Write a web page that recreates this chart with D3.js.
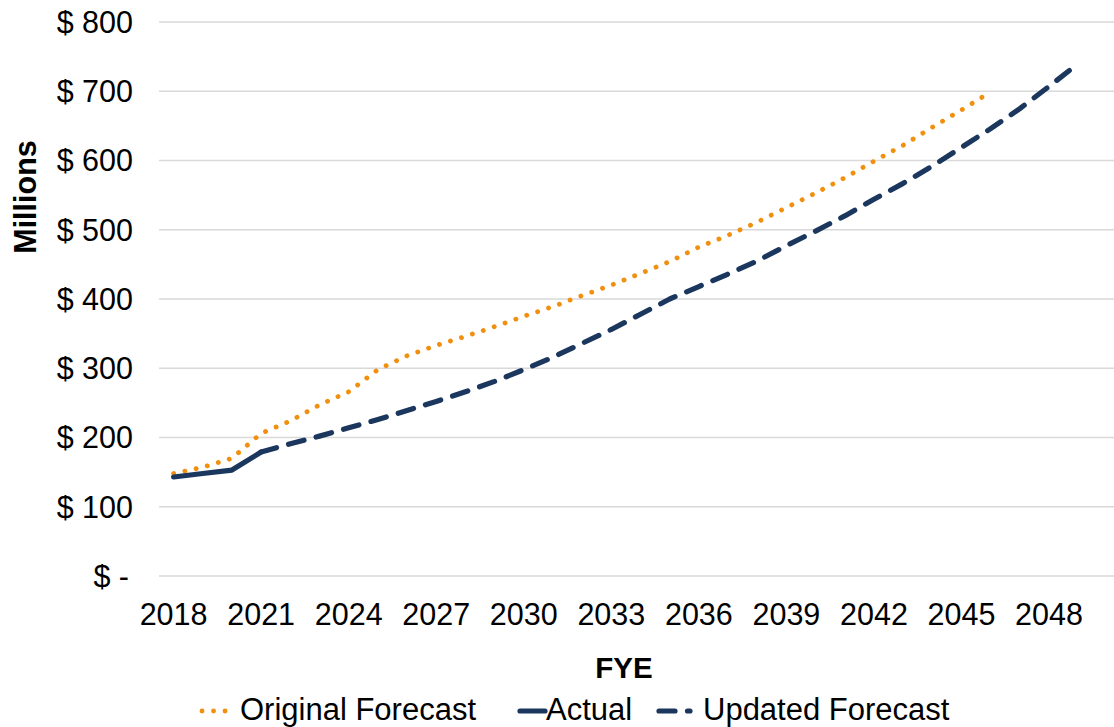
<!DOCTYPE html>
<html>
<head>
<meta charset="utf-8">
<script src="https://cdn.jsdelivr.net/npm/d3@7"></script>
<style>
  html, body { margin: 0; padding: 0; background: #fff; }
  svg { display: block; font-family: "Liberation Sans", Arial, sans-serif; }
</style>
</head>
<body>
<div id="chart"></div>
<script>
// values ($ millions)
const actualYears = [2018, 2019, 2020, 2021];
const actualValues = [143, 148, 153, 179];

const originalYears = d3.range(2018, 2047);
const originalValues = [
  148, 157, 170, 206, 224, 247, 266, 298, 318, 333,
  346, 360, 375, 389, 405, 420, 437, 454, 475, 492,
  511, 532, 553, 575, 599, 622, 648, 673, 699
];

const updatedYears = d3.range(2021, 2050);
const updatedValues = [
  179, 191, 202, 214, 226, 239, 252, 266, 281, 298,
  316, 336, 356, 378, 400, 418, 436, 455, 477, 498,
  520, 544, 567, 592, 619, 646, 675, 707, 740
];

const yTicks = [0, 100, 200, 300, 400, 500, 600, 700, 800];
const xTicks = d3.range(2018, 2049, 3);

const legendItems = [
  { name: "Original Forecast", kind: "dot" },
  { name: "Actual", kind: "solid" },
  { name: "Updated Forecast", kind: "dash" }
];

const orange = "#F0900E";
const navy = "#1B375E";
const grid = "#D9D9D9";

const width = 1114, height = 727;
const plot = { left: 159, right: 1122, top: 22, bottom: 576 };

const x = d3.scaleLinear().domain([2017.5, 2050.5]).range([plot.left, plot.right]);
const y = d3.scaleLinear().domain([0, 800]).range([plot.bottom, plot.top]);

const svg = d3.select("#chart").append("svg")
  .attr("width", width)
  .attr("height", height)
  .attr("viewBox", `0 0 ${width} ${height}`);

// horizontal gridlines
svg.append("g")
  .selectAll("line")
  .data(yTicks)
  .join("line")
  .attr("x1", plot.left)
  .attr("x2", plot.right)
  .attr("y1", (d) => y(d))
  .attr("y2", (d) => y(d))
  .attr("stroke", grid)
  .attr("stroke-width", 1.5);

// y axis labels
svg.append("g")
  .selectAll("text")
  .data(yTicks)
  .join("text")
  .attr("x", (d) => (d === 0 ? 129 : 133))
  .attr("y", (d) => y(d))
  .attr("dy", "0.36em")
  .attr("text-anchor", "end")
  .attr("font-size", 30.5)
  .attr("fill", "#000")
  .text((d) => (d === 0 ? "$ -" : `$ ${d}`));

// x axis labels
svg.append("g")
  .selectAll("text")
  .data(xTicks)
  .join("text")
  .attr("x", (d) => x(d))
  .attr("y", 625)
  .attr("text-anchor", "middle")
  .attr("font-size", 30.5)
  .attr("fill", "#000")
  .text((d) => d);

// axis titles
svg.append("text")
  .attr("transform", "translate(36,197) rotate(-90)")
  .attr("text-anchor", "middle")
  .attr("font-size", 30.5)
  .attr("font-weight", "bold")
  .text("Millions");

svg.append("text")
  .attr("x", 624)
  .attr("y", 678)
  .attr("text-anchor", "middle")
  .attr("font-size", 29.5)
  .attr("font-weight", "bold")
  .text("FYE");

const line = d3.line()
  .x((d) => x(d[0]))
  .y((d) => y(d[1]));

const styles = {
  dot: { color: orange, width: 4.8, dash: "0.1 11.4" },
  solid: { color: navy, width: 5.2, dash: null },
  dash: { color: navy, width: 5.2, dash: "16 12.5" }
};

const series = [
  { kind: "dot", points: d3.zip(originalYears, originalValues) },
  { kind: "dash", points: d3.zip(updatedYears, updatedValues) },
  { kind: "solid", points: d3.zip(actualYears, actualValues) }
];

svg.append("g")
  .selectAll("path")
  .data(series)
  .join("path")
  .attr("d", (s) => line(s.points))
  .attr("fill", "none")
  .attr("stroke", (s) => styles[s.kind].color)
  .attr("stroke-width", (s) => styles[s.kind].width)
  .attr("stroke-dasharray", (s) => styles[s.kind].dash)
  .attr("stroke-linecap", "round")
  .attr("stroke-linejoin", "round");

// legend
const legendPos = [
  { x0: 202, x1: 232, tx: 240 },
  { x0: 520, x1: 545, tx: 546 },
  { x0: 659, x1: 690, tx: 703 }
];
const legend = svg.append("g");
legendItems.forEach((item, i) => {
  const p = legendPos[i];
  const st = styles[item.kind];
  legend.append("line")
    .attr("x1", p.x0)
    .attr("x2", p.x1)
    .attr("y1", 711)
    .attr("y2", 711)
    .attr("stroke", st.color)
    .attr("stroke-width", st.width)
    .attr("stroke-dasharray", st.dash)
    .attr("stroke-linecap", "round");
  legend.append("text")
    .attr("x", p.tx)
    .attr("y", 720)
    .attr("font-size", 31)
    .attr("fill", "#000")
    .text(item.name);
});
</script>
</body>
</html>
